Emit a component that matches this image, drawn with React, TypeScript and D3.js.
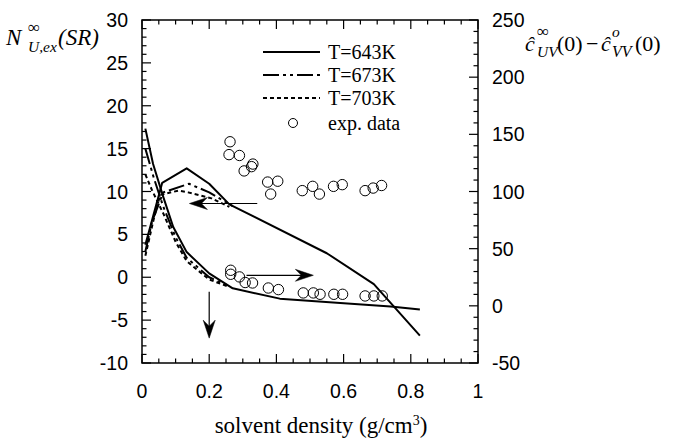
import React from "react";
import * as d3 from "d3";

// ---- data ----
const leftTicks = [30, 25, 20, 15, 10, 5, 0, -5, -10];
const rightTicks = [250, 200, 150, 100, 50, 0, -50];
const xTicks = [0, 0.2, 0.4, 0.6, 0.8, 1];
const xTickLabels = ["0", "0.2", "0.4", "0.6", "0.8", "1"];

// N^inf_U,ex(SR) curves (left axis)
const n643X = [0.01, 0.06, 0.133, 0.2, 0.26, 0.55, 0.69, 0.827];
const n643Y = [3.8, 11.0, 12.7, 10.9, 8.5, 2.8, -0.8, -6.8];
const n673X = [0.01, 0.03, 0.063, 0.14, 0.2, 0.27];
const n673Y = [3.0, 6.5, 9.9, 10.9, 9.9, 8.3];
const n703X = [0.01, 0.035, 0.054, 0.108, 0.137, 0.207, 0.26];
const n703Y = [2.5, 6.8, 9.6, 10.1, 9.9, 9.2, 8.2];

// c_UV - c_VV curves (right axis)
const c643X = [0.01, 0.033, 0.063, 0.093, 0.133, 0.2, 0.27, 0.41, 0.59, 0.74, 0.827];
const c643Y = [155, 124, 95.5, 69, 47, 28.4, 15.3, 6.3, 2.5, -0.5, -3.3];
const c673X = [0.01, 0.035, 0.063, 0.1, 0.133, 0.2, 0.26];
const c673Y = [137.5, 112, 87, 60, 42, 25, 17];
const c703X = [0.01, 0.03, 0.063, 0.1, 0.133, 0.2, 0.26];
const c703Y = [115, 101, 81, 56, 39, 23, 16.5];

// experimental data
const expNX = [0.262, 0.259, 0.29, 0.304, 0.326, 0.33, 0.374, 0.404, 0.383, 0.477, 0.508, 0.528, 0.57, 0.596, 0.664, 0.688, 0.713];
const expNY = [15.8, 14.3, 14.2, 12.4, 12.9, 13.2, 11.1, 11.2, 9.7, 10.1, 10.6, 9.7, 10.6, 10.8, 10.1, 10.4, 10.7];
const expCX = [0.264, 0.264, 0.29, 0.307, 0.329, 0.376, 0.406, 0.48, 0.51, 0.53, 0.571, 0.597, 0.664, 0.69, 0.715];
const expCY = [31.1, 27.6, 25.3, 20.4, 20.0, 15.6, 14.2, 11.3, 11.3, 10.1, 10.1, 10.1, 8.65, 8.65, 8.65];

// arrows (data units)
const arrowLeftN = { x0: 0.343, x1: 0.141, y: 8.6 };
const arrowRightC = { x0: 0.311, x1: 0.51, y: 26.7 };
const arrowDownN = { x: 0.2, y0: -1.7, y1: -7.1 };

const legendLabels = ["T=643K", "T=673K", "T=703K", "exp. data"];

// ---- layout ----
const W = 679, H = 439;
const L = 142, R = 478, T = 20, B = 363;
const x = d3.scaleLinear().domain([0, 1]).range([L, R]);
const yL = d3.scaleLinear().domain([-10, 30]).range([B, T]);
const yR = d3.scaleLinear().domain([-50, 250]).range([B, T]);

const SANS = "'Liberation Sans', Arial, Helvetica, sans-serif";
const SERIF = "'Liberation Serif', 'Times New Roman', serif";

const dashes = ["", "16,4,3,4,3,4", "4,3"];

function zip(xs: number[], ys: number[]): [number, number][] {
  return xs.map((v, i) => [v, ys[i]]);
}

function arrowHead(tx: number, ty: number, dx: number, dy: number) {
  const len = 18, notch = 12, half = 6;
  const px = -dy, py = dx;
  const bx = tx - dx * len, by = ty - dy * len;
  const nx = tx - dx * notch, ny = ty - dy * notch;
  return `M${tx},${ty} L${bx + px * half},${by + py * half} L${nx},${ny} L${bx - px * half},${by - py * half} Z`;
}

export default function App() {
  const lineL = d3.line<[number, number]>().x(d => x(d[0])).y(d => yL(d[1]));
  const lineR = d3.line<[number, number]>().x(d => x(d[0])).y(d => yR(d[1]));

  const nCurves = [zip(n643X, n643Y), zip(n673X, n673Y), zip(n703X, n703Y)];
  const cCurves = [zip(c643X, c643Y), zip(c673X, c673Y), zip(c703X, c703Y)];

  const xMinor = d3.range(0, 1.0001, 0.05);
  const yLMinor = d3.range(-10, 30.001, 1);
  const yRMinor = d3.range(-50, 250.001, 10);

  const ticks: JSX.Element[] = [];
  xMinor.forEach((v, i) => {
    const major = Math.abs(v * 5 - Math.round(v * 5)) < 1e-6;
    const len = major ? 9 : 4.5;
    ticks.push(<line key={"xb" + i} x1={x(v)} x2={x(v)} y1={B} y2={B - len} />);
    ticks.push(<line key={"xt" + i} x1={x(v)} x2={x(v)} y1={T} y2={T + len} />);
  });
  yLMinor.forEach((v, i) => {
    const major = Math.abs(v % 5) < 1e-6;
    const len = major ? 9 : 4.5;
    ticks.push(<line key={"yl" + i} x1={L} x2={L + len} y1={yL(v)} y2={yL(v)} />);
  });
  yRMinor.forEach((v, i) => {
    const major = Math.abs(v % 50) < 1e-6;
    const len = major ? 9 : 4.5;
    ticks.push(<line key={"yr" + i} x1={R} x2={R - len} y1={yR(v)} y2={yR(v)} />);
  });

  const aL = arrowLeftN, aR = arrowRightC, aD = arrowDownN;

  const legX0 = 263, legX1 = 320, legTx = 328;
  const legY = [52, 75, 98, 123];

  return (
    <svg width={W} height={H} style={{ position: "absolute", left: 0, top: 0, background: "#fff" }}>
      <rect x={0} y={0} width={W} height={H} fill="#fff" />
      <g stroke="#000" strokeWidth={1.2}>{ticks}</g>
      <rect x={L} y={T} width={R - L} height={B - T} fill="none" stroke="#000" strokeWidth={1.5} />

      {/* tick labels */}
      <g fontFamily={SANS} fontSize={19.5} fill="#000">
        {leftTicks.map(v => (
          <text key={"lt" + v} x={128} y={yL(v)} dy="0.36em" textAnchor="end">{v}</text>
        ))}
        {rightTicks.map(v => (
          <text key={"rt" + v} x={492} y={yR(v)} dy="0.36em" textAnchor="start">{v}</text>
        ))}
        {xTicks.map((v, i) => (
          <text key={"xt" + v} x={x(v)} y={398} textAnchor="middle">{xTickLabels[i]}</text>
        ))}
      </g>

      {/* curves */}
      <g fill="none" stroke="#000" strokeWidth={2} strokeLinejoin="round">
        {nCurves.map((c, i) => (
          <path key={"n" + i} d={lineL(c) || ""} strokeDasharray={dashes[i] || undefined} />
        ))}
        {cCurves.map((c, i) => (
          <path key={"c" + i} d={lineR(c) || ""} strokeDasharray={dashes[i] || undefined} />
        ))}
      </g>

      {/* exp data */}
      <g fill="none" stroke="#000" strokeWidth={1}>
        {expNX.map((v, i) => (
          <circle key={"en" + i} cx={x(v)} cy={yL(expNY[i])} r={5.2} />
        ))}
        {expCX.map((v, i) => (
          <circle key={"ec" + i} cx={x(v)} cy={yR(expCY[i])} r={5.2} />
        ))}
      </g>

      {/* arrows */}
      <g stroke="#000" strokeWidth={1.2} fill="#000">
        <line x1={x(aL.x0)} x2={x(aL.x1) + 10} y1={yL(aL.y)} y2={yL(aL.y)} />
        <path d={arrowHead(x(aL.x1), yL(aL.y), -1, 0)} strokeWidth={0.5} />
        <line x1={x(aR.x0)} x2={x(aR.x1) - 10} y1={yR(aR.y)} y2={yR(aR.y)} />
        <path d={arrowHead(x(aR.x1), yR(aR.y), 1, 0)} strokeWidth={0.5} />
        <line x1={x(aD.x)} x2={x(aD.x)} y1={yL(aD.y0)} y2={yL(aD.y1) - 10} />
        <path d={arrowHead(x(aD.x), yL(aD.y1), 0, 1)} strokeWidth={0.5} />
      </g>

      {/* legend */}
      <g fontFamily={SERIF} fontSize={20} fill="#000">
        {[0, 1, 2].map(i => (
          <line key={"lg" + i} x1={legX0} x2={legX1} y1={legY[i]} y2={legY[i]} stroke="#000" strokeWidth={2}
            strokeDasharray={dashes[i] || undefined} />
        ))}
        <circle cx={293} cy={legY[3]} r={4.5} fill="none" stroke="#000" strokeWidth={1} />
        {legendLabels.map((t, i) => (
          <text key={"lt" + i} x={legTx} y={legY[i] + 6.5}>{t}</text>
        ))}
      </g>

      {/* x title */}
      <text x={321} y={433} textAnchor="middle" fontFamily={SERIF} fontSize={23}>
        solvent density (g/cm<tspan dy={-8} fontSize={14}>3</tspan><tspan dy={8}>)</tspan>
      </text>

      {/* left title */}
      <g fontFamily={SERIF} fill="#000">
        <text x={6} y={45} fontSize={23} fontStyle="italic">N</text>
        <text x={28} y={33} fontSize={17}>∞</text>
        <text x={28} y={52} fontSize={15.5} fontStyle="italic">U,ex</text>
        <text x={58} y={45} fontSize={23} fontStyle="italic">(SR)</text>
      </g>

      {/* right title */}
      <g fontFamily={SERIF} fill="#000">
        <text x={525} y={51} fontSize={22} fontStyle="italic">ĉ</text>
        <text x={537} y={37} fontSize={17}>∞</text>
        <text x={537} y={57} fontSize={15.5} fontStyle="italic">UV</text>
        <text x={557} y={51} fontSize={22}>(0)</text>
        <text x={586} y={51} fontSize={22}>−</text>
        <text x={601} y={51} fontSize={22} fontStyle="italic">ĉ</text>
        <text x={612} y={37} fontSize={15.5} fontStyle="italic">o</text>
        <text x={612} y={57} fontSize={16} fontStyle="italic">VV</text>
        <text x={635} y={51} fontSize={22}>(0)</text>
      </g>
    </svg>
  );
}
